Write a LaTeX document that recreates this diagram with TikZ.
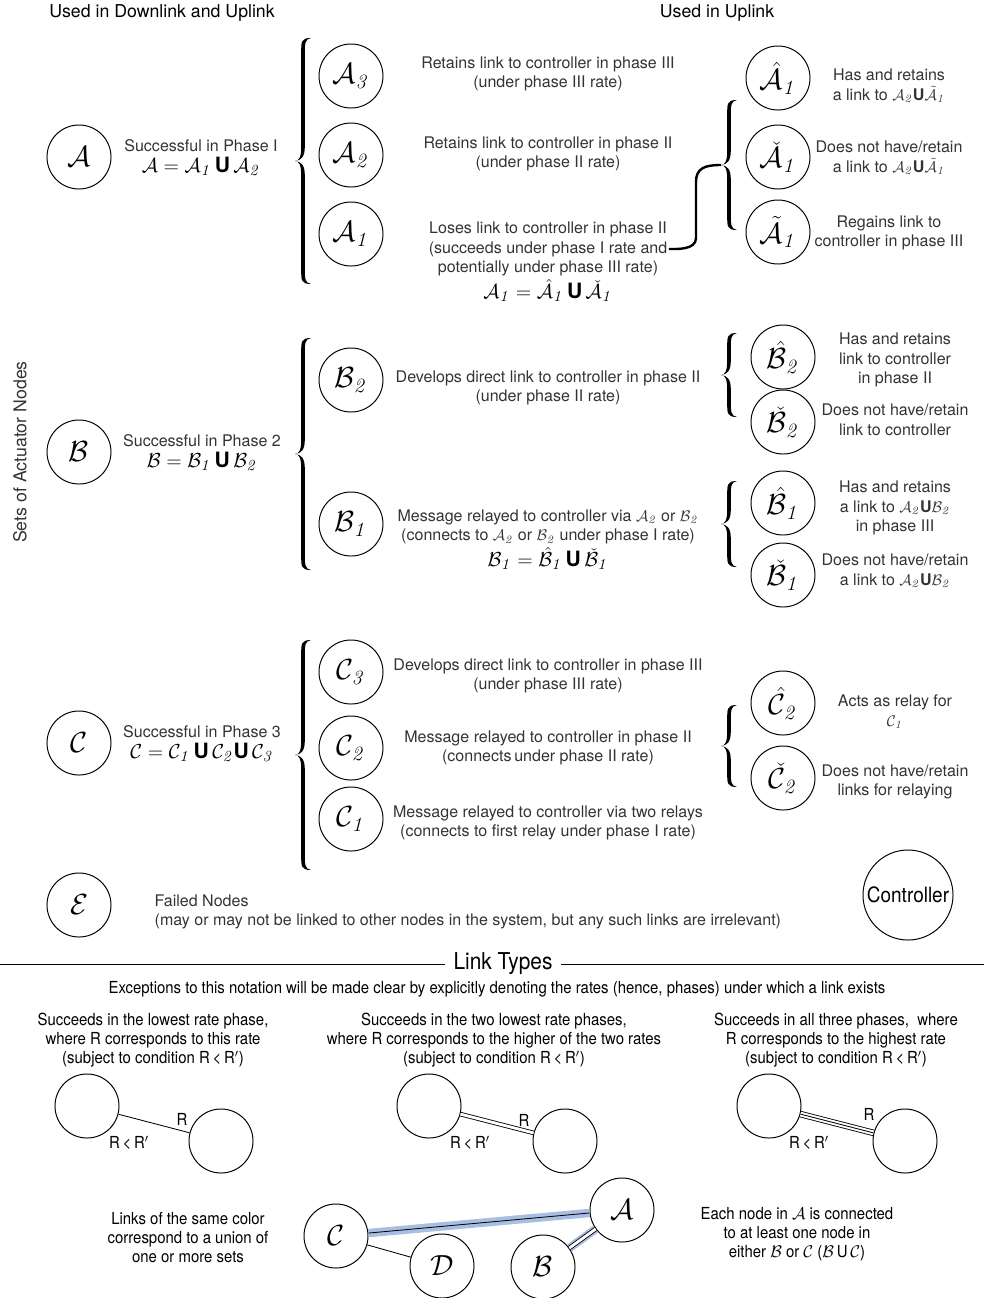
\documentclass[tikz,border=0pt]{standalone}
\usepackage[no-math]{fontspec}
\setmainfont{TeX Gyre Heros}
\newfontfamily\narrowfont[FakeStretch=0.9]{TeX Gyre Heros}
\usetikzlibrary{positioning}

\definecolor{linkblue}{RGB}{168,190,226}

\newcommand{\cA}{\mathcal{A}}
\newcommand{\cB}{\mathcal{B}}
\newcommand{\cC}{\mathcal{C}}
\newcommand{\cD}{\mathcal{D}}
\newcommand{\cE}{\mathcal{E}}
\newcommand{\un}{\mbox{\bfseries U}}

% a "{" of half height #1, tip at the origin
\tikzset{
  sbrace/.pic={
    \fill (16,-#1) .. controls (6,-#1) and (6.2,-#1+4) .. (6.2,-#1+14)
      -- (6.2,-14) .. controls (6.2,-4) and (4,0) .. (0,0)
      .. controls (4,0) and (6.2,4) .. (6.2,14)
      -- (6.2,#1-14) .. controls (6.2,#1-4) and (6,#1) .. (16,#1)
      .. controls (9.8,#1-1) and (9.8,#1-6) .. (9.8,#1-14)
      -- (9.8,14) .. controls (9.8,4) and (6,0.6) .. (0,0)
      .. controls (6,-0.6) and (9.8,-4) .. (9.8,-14)
      -- (9.8,-#1+14) .. controls (9.8,-#1+6) and (9.8,-#1+1) .. (16,-#1) -- cycle;
    \coordinate (-tip) at (0,0);
  }}

\begin{document}
\begin{tikzpicture}[x=0.025cm,y=-0.025cm,
    setnode/.style={circle,draw,line width=0.7pt,minimum size=1.6cm,inner sep=0pt,font=\fontsize{20}{20}\selectfont},
    desc/.style={align=center,font=\fontsize{11.4}{13.9}\selectfont,text=black!80,inner sep=1pt},
    header/.style={font=\fontsize{12.6}{14}\selectfont,inner sep=1pt},
    formula/.style={font=\fontsize{15}{15}\selectfont,inner sep=1pt},
    legend/.style={align=center,font=\narrowfont\fontsize{11.8}{13.5}\selectfont,inner sep=1pt},
    link/.style={line width=0.6pt},
    band/.style={linkblue,line width=6pt}]
  \useasboundingbox (0,0) rectangle (984,1298);

  \node[header] (hdl) at (162,13) {Used in Downlink and Uplink};
  \node[header] (hul) at (717,13) {Used in Uplink};
  \node[header,text=black!80,rotate=90] (san) at (20,452) {Sets of Actuator Nodes};

  % the sets
  \node[setnode] (A) at (79,157) {$\cA$};
  \node[setnode] (B) at (79,452) {$\cB$};
  \node[setnode] (C) at (79,743) {$\cC$};
  \node[setnode] (E) at (79,905) {$\cE$};

  \node[desc] (Atx) at (201,146) {Successful in Phase I};
  \node[formula,below=1pt of Atx] (Aeq) {$\cA=\cA_{\mathit1}\,\un\,\cA_{\mathit2}$};
  \node[desc] (Btx) at (202,441) {Successful in Phase 2};
  \node[formula,below=1pt of Btx] (Beq) {$\cB=\cB_{\mathit1}\,\un\,\cB_{\mathit2}$};
  \node[desc] (Ctx) at (202,732) {Successful in Phase 3};
  \node[formula,below=1pt of Ctx] (Ceq) {$\cC=\cC_{\mathit1}\,\un\,\cC_{\mathit2}\un\,\cC_{\mathit3}$};
  \node[desc,align=left,anchor=west] (Etx) at (153,912) {Failed Nodes\\(may or may not be linked to other nodes in the system, but any such links are irrelevant)};

  \pic (Abrace) at (295,161) {sbrace=123};
  \pic (Bbrace) at (295,454) {sbrace=116};
  \pic (Cbrace) at (295,755) {sbrace=115};

  % subsets
  \foreach \n/\y in {3/76,2/155,1/234}
    \node[setnode] (A\n) at (351,\y) {$\cA_{\mathit\n}$};
  \foreach \n/\y in {2/380,1/524}
    \node[setnode] (B\n) at (351,\y) {$\cB_{\mathit\n}$};
  \foreach \n/\y in {3/672,2/748,1/819}
    \node[setnode] (C\n) at (351,\y) {$\cC_{\mathit\n}$};

  \node[desc] (A3tx) at (548,74) {Retains link to controller in phase III\\(under phase III rate)};
  \node[desc] (A2tx) at (548,154) {Retains link to controller in phase II\\(under phase II rate)};
  \node[desc] (A1tx) at (548,249) {Loses link to controller in phase II\\(succeeds under phase I rate and\\potentially under phase III rate)};
  \node[formula,below=0pt of A1tx] (A1eq) {$\cA_{\mathit1}=\hat\cA_{\mathit1}\,\un\,\check\cA_{\mathit1}$};
  \node[desc] (B2tx) at (548,388) {Develops direct link to controller in phase II\\(under phase II rate)};
  \node[desc] (B1tx) at (548,527) {Message relayed to controller via $\cA_{\mathit2}$ or $\cB_{\mathit2}$\\(connects to $\cA_{\mathit2}$ or $\cB_{\mathit2}$ under phase I rate)};
  \node[formula,below=0pt of B1tx] (B1eq) {$\cB_{\mathit1}=\hat\cB_{\mathit1}\,\un\,\check\cB_{\mathit1}$};
  \node[desc] (C3tx) at (548,676) {Develops direct link to controller in phase III\\(under phase III rate)};
  \node[desc] (C2tx) at (548,748) {Message relayed to controller in phase II\\(connects\,under phase II rate)};
  \node[desc] (C1tx) at (548,823) {Message relayed to controller via two relays\\(connects to first relay under phase I rate)};

  % uplink splits
  \node[setnode] (Ah) at (778,78) {$\hat\cA_{\mathit1}$};
  \node[setnode] (Av) at (778,157) {$\check\cA_{\mathit1}$};
  \node[setnode] (At) at (778,232) {$\tilde\cA_{\mathit1}$};
  \pic (Abr) at (721,165) {sbrace=65};
  \draw[line width=1.7pt] (Abr-tip) .. controls +(-16,0) and +(0,-14) .. (696,182) -- (696,238) .. controls +(0,12) and +(8,0) .. (A1tx.east);
  \node[desc] (Ahtx) at (889,86) {Has and retains\\a link to $\cA_{\mathit2}$\un$\tilde\cA_{\mathit1}$};
  \node[desc] (Avtx) at (889,158) {Does not have/retain\\a link to $\cA_{\mathit2}$\un$\tilde\cA_{\mathit1}$};
  \node[desc] (Attx) at (889,233) {Regains link to\\controller in phase III};

  \node[setnode] (Bh2) at (783,357) {$\hat\cB_{\mathit2}$};
  \node[setnode] (Bv2) at (783,422) {$\check\cB_{\mathit2}$};
  \node[setnode] (Bh1) at (783,503) {$\hat\cB_{\mathit1}$};
  \node[setnode] (Bv1) at (783,575) {$\check\cB_{\mathit1}$};
  \pic (B2br) at (721,375) {sbrace=42};
  \pic (B1br) at (721,524) {sbrace=43};
  \node[desc] (Bh2tx) at (895,360) {Has and retains\\link to controller\\in phase II};
  \node[desc] (Bv2tx) at (895,420) {Does not have/retain\\link to controller};
  \node[desc] (Bh1tx) at (895,508) {Has and retains\\a link to $\cA_{\mathit2}$\un$\cB_{\mathit2}$\\in phase III};
  \node[desc] (Bv1tx) at (895,571) {Does not have/retain\\a link to $\cA_{\mathit2}$\un$\cB_{\mathit2}$};

  \node[setnode] (Ch) at (783,703) {$\hat\cC_{\mathit2}$};
  \node[setnode] (Cv) at (783,778) {$\check\cC_{\mathit2}$};
  \pic (Cbr) at (721,746) {sbrace=41};
  \node[desc] (Chtx) at (895,712) {Acts as relay for\\$\cC_{\mathit1}$};
  \node[desc] (Cvtx) at (895,782) {Does not have/retain\\links for relaying};

  \node[setnode,minimum size=2.25cm,font=\narrowfont\fontsize{15}{15}\selectfont] (ctrl) at (908,895) {Controller};

  % link types
  \node[legend,font=\narrowfont\fontsize{16.5}{16.5}\selectfont,inner sep=6pt] (lt) at (503,964) {Link Types};
  \coordinate (ltl) at (0,964);
  \coordinate (ltr) at (984,964);
  \draw[line width=0.7pt] (ltl) -- (lt.west) (lt.east) -- (ltr);
  \node[legend] (exc) at (497,989) {Exceptions to this notation will be made clear by explicitly denoting the rates (hence, phases) under which a link exists};
  \node[legend] (h1) at (153,1040) {Succeeds in the lowest rate phase,\\where R corresponds to this rate\\(subject to condition R\,<\,R$'$)};
  \node[legend] (h2) at (494,1040) {Succeeds in the two lowest rate phases,\\where R corresponds to the higher of the two rates\\(subject to condition R\,<\,R$'$)};
  \node[legend] (h3) at (836,1040) {Succeeds in all three phases,\ \ where\\R corresponds to the highest rate\\(subject to condition R\,<\,R$'$)};

  \node[setnode] (l1a) at (87,1106) {};
  \node[setnode] (l1b) at (221,1141) {};
  \draw[link] (l1a) -- (l1b);
  \node[legend] (l1r) at (182,1119) {R};
  \node[legend] (l1c) at (129,1143) {R\,<\,R$'$};

  \node[setnode] (l2a) at (429,1106) {};
  \node[setnode] (l2b) at (565,1141) {};
  \draw[link,double,double distance=2pt] (l2a) -- (l2b);
  \node[legend] (l2r) at (524,1120) {R};
  \node[legend] (l2c) at (470,1143) {R\,<\,R$'$};

  \node[setnode] (l3a) at (769,1106) {};
  \node[setnode] (l3b) at (905,1141) {};
  \draw[link,double,double distance=3.4pt] (l3a) -- (l3b);
  \draw[link] (l3a) -- (l3b);
  \node[legend] (l3r) at (869,1114) {R};
  \node[legend] (l3c) at (809,1143) {R\,<\,R$'$};

  % colour = union of sets
  \node[legend] (samecol) at (188,1238) {Links of the same color\\correspond to a union of\\one or more sets};
  \node[setnode] (gC) at (336,1236) {$\cC$};
  \node[setnode] (gD) at (442,1266) {$\cD$};
  \node[setnode] (gB) at (543,1267) {$\cB$};
  \node[setnode] (gA) at (622,1210) {$\cA$};
  \draw[band] (gC) -- (gA);
  \draw[link] (gC) -- (gA);
  \draw[link] (gC) -- (gD);
  \draw[band] (gB) -- (gA);
  \draw[link,double,double distance=2pt] (gB) -- (gA);
  \node[legend] (each) at (797,1234) {Each node in $\cA$ is connected\\to at least one node in\\either $\cB$ or $\cC$ ($\cB$\,U\,$\cC$)};
\end{tikzpicture}
\end{document}
